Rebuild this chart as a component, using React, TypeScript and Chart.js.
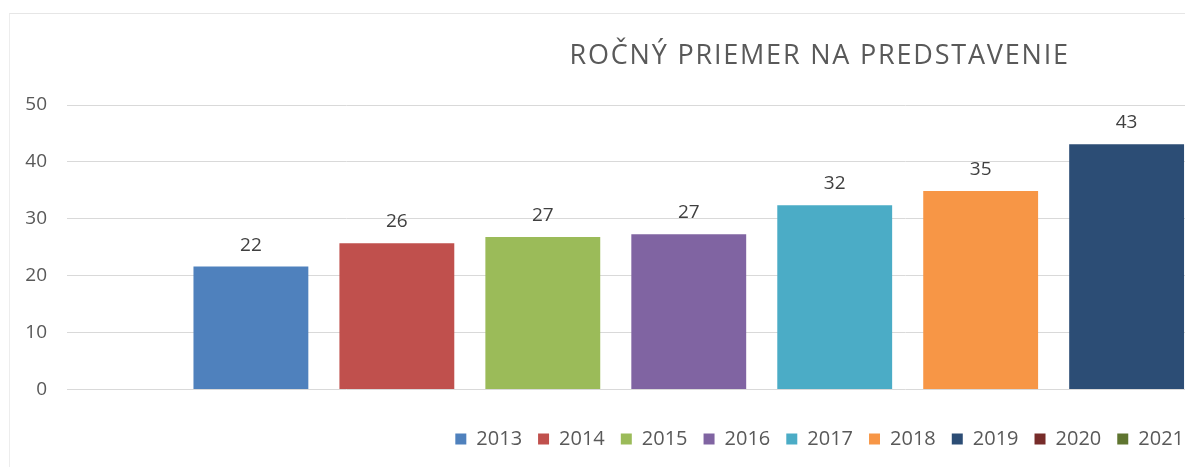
import React, { useEffect, useRef } from 'react';
import { Chart, registerables } from 'chart.js';

Chart.register(...registerables);

const TITLE = 'ROČNÝ PRIEMER NA PREDSTAVENIE';
const years = [2013, 2014, 2015, 2016, 2017, 2018, 2019, 2020, 2021];
const values: (number | null)[] = [21.6, 25.7, 26.8, 27.3, 32.4, 34.9, 43.1, null, null];
const colors = ['#4F81BD', '#C0504D', '#9BBB59', '#8064A2', '#4BACC6', '#F79646', '#2C4D75', '#772C2A', '#5F7530'];
const yMin = 0;
const yMax = 50;
const yStep = 10;

const FONT = '"Open Sans", "DejaVu Sans", sans-serif';
const TEXT = '#595959';

const titlePlugin = {
  id: 'offsetTitle',
  afterDraw(chart: any) {
    const hb = chart.legend && chart.legend.legendHitBoxes;
    if (!hb || !hb.length) return;
    const last = hb[hb.length - 1];
    const cx = (hb[0].left + last.left + last.width) / 2;
    const ctx = chart.ctx;
    ctx.save();
    ctx.font = `27px ${FONT}`;
    try {
      (ctx as any).letterSpacing = '1.8px';
    } catch (e) {}
    ctx.fillStyle = TEXT;
    ctx.textAlign = 'center';
    ctx.textBaseline = 'alphabetic';
    ctx.fillText(TITLE, cx, chart.chartArea.top - 41);
    ctx.restore();
  },
};

const valueLabelPlugin = {
  id: 'valueLabels',
  afterDatasetsDraw(chart: any) {
    const ctx = chart.ctx;
    ctx.save();
    ctx.font = `19px ${FONT}`;
    ctx.fillStyle = '#404040';
    ctx.textAlign = 'center';
    ctx.textBaseline = 'alphabetic';
    chart.data.datasets.forEach((ds: any, i: number) => {
      const meta = chart.getDatasetMeta(i);
      if (meta.hidden) return;
      meta.data.forEach((el: any, j: number) => {
        const v = ds.data[j].y;
        ctx.fillText(String(Math.round(v)), el.x, el.y - 16);
      });
    });
    ctx.restore();
  },
};

export default function App() {
  const ref = useRef<HTMLCanvasElement>(null);

  useEffect(() => {
    if (!ref.current) return;
    const datasets = years.map((yr, i) => ({
      label: String(yr),
      data: values[i] == null ? [] : [{ x: yr, y: values[i] }],
      backgroundColor: colors[i],
      borderWidth: 0,
      grouped: false,
      barPercentage: 0.787,
      categoryPercentage: 1,
    }));
    const chart = new Chart(ref.current, {
      type: 'bar',
      data: { datasets } as any,
      plugins: [titlePlugin, valueLabelPlugin],
      options: {
        animation: false,
        responsive: false,
        layout: { padding: { top: 105, bottom: 8, left: 0, right: 0 } },
        scales: {
          x: {
            type: 'linear',
            min: 2011.74,
            max: 2019.4,
            offset: false,
            display: true,
            ticks: { display: false },
            grid: { display: false, offset: false },
            border: { display: false },
            afterBuildTicks: (s: any) => {
              s.ticks = years.filter((_, i) => values[i] != null).map((v) => ({ value: v }));
            },
            afterFit: (s: any) => {
              s.height = 23.5;
            },
          },
          y: {
            min: yMin,
            max: yMax,
            ticks: {
              stepSize: yStep,
              color: TEXT,
              padding: 20,
              font: { family: FONT, size: 19 },
            },
            grid: { color: '#D9D9D9', drawTicks: false, lineWidth: 1 },
            border: { display: false },
            afterFit: (s: any) => {
              s.width = 67;
            },
          },
          pad: {
            type: 'linear',
            position: 'right',
            display: true,
            ticks: { display: false },
            grid: { display: false },
            border: { display: false },
            afterFit: (s: any) => {
              s.width = 15;
            },
          },
        },
        plugins: {
          title: { display: false },
          tooltip: { enabled: false },
          legend: {
            position: 'bottom',
            align: 'end',
            labels: {
              boxWidth: 11,
              boxHeight: 11,
              padding: 16,
              color: TEXT,
              font: { family: FONT, size: 20 },
            },
          },
        },
      } as any,
    });
    return () => chart.destroy();
  }, []);

  return (
    <div
      style={{
        position: 'fixed',
        left: 0,
        top: 0,
        width: 1195,
        height: 467,
        overflow: 'hidden',
        background: '#ffffff',
      }}
    >
      <div
        style={{
          position: 'absolute',
          left: 9,
          top: 13,
          width: 1176,
          height: 470,
          borderTop: '1px solid #E6E6E6',
          borderLeft: '1px solid #EDEDED',
          boxSizing: 'border-box',
        }}
      />
      <canvas
        ref={ref}
        width={1200}
        height={467}
        style={{ position: 'absolute', left: 0, top: 0, width: 1200, height: 467 }}
      />
    </div>
  );
}
